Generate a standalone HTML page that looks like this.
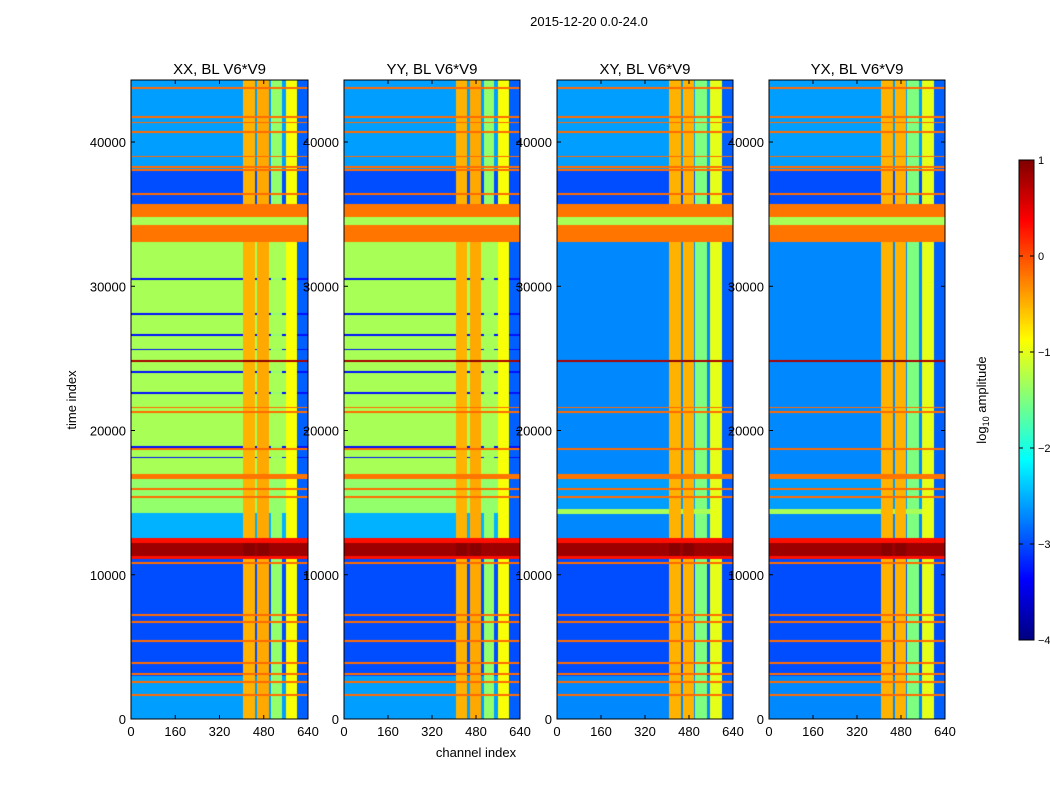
<!DOCTYPE html>
<html><head><meta charset="utf-8"><style>
body{margin:0;background:#fff;width:1050px;height:800px;overflow:hidden;font-family:"Liberation Sans",sans-serif;}
#wrap{position:relative;width:1050px;height:800px;}
canvas{position:absolute;}
svg{position:absolute;left:0;top:0;}
</style></head><body>
<div id="wrap">
<canvas id="c0" width="177" height="639" style="left:131px;top:80px"></canvas>
<canvas id="c1" width="176" height="639" style="left:344px;top:80px"></canvas>
<canvas id="c2" width="176" height="639" style="left:557px;top:80px"></canvas>
<canvas id="c3" width="176" height="639" style="left:769px;top:80px"></canvas>
<canvas id="cb" width="15" height="480" style="left:1019px;top:160px"></canvas>
<svg id="ov" width="1050" height="800" font-family="Liberation Sans, sans-serif"></svg>
</div>
<script>
// ---- data ----
const panelTitles = ["XX, BL V6*V9","YY, BL V6*V9","XY, BL V6*V9","YX, BL V6*V9"];
const xTicks = [0,160,320,480,640];
const yTicks = [0,10000,20000,30000,40000];
const cbTicks = [1,0,-1,-2,-3,-4];
const tMax = 44300, chMax = 640, vMin = -4, vMax = 1;
const rowsParallel = [[0,3000,-2.6],[3000,11080,-3.0],[12520,14250,-2.5],[14250,16630,-1.4],[16980,33100,-1.3],[33100,35690,-0.2],[35690,38000,-3.0],[38000,44300,-2.6]];
const rowsCross = [[0,3000,-2.7],[3000,11080,-3.0],[12520,14190,-2.7],[14190,14530,-1.3],[14530,16630,-2.6],[16980,33100,-2.7],[33100,35690,-0.2],[35690,38000,-3.0],[38000,44300,-2.6]];
const overrideBands = [[11080,11300,0.3],[11300,12200,0.85],[12200,12520,0.3],[16630,16980,-0.2],[24780,24900,0.8],[33100,34250,-0.2],[34250,34800,-1.3],[34800,35690,-0.2]];
const orangeLines = [43750,41730,41360,40720,39000,38280,38080,36410,21590,21300,18700,15970,15400,10790,7220,6710,5380,3890,3110,2590,1640];
const darkLines = [30500,28060,26620,25610,24030,22590,18850,18130];
const colBands = [[406,448,-0.5],[457,500,-0.45],[508,547,-1.4],[559,599,-0.9]];
const colBandsCross = [[406,450,-0.5],[458,500,-0.5],[502,547,-1.5],[556,600,-1.0]];
const redCols = [[406,448,0.95],[457,500,0.95]];
const panelRows = [rowsParallel,rowsParallel,rowsCross,rowsCross];
const panelCols = [colBands,colBands,colBandsCross,colBandsCross];
const panelDark = [darkLines,darkLines,[],[]];

function jet(x){x=Math.max(0,Math.min(1,x));
 const r=Math.min(Math.max(Math.min(4*x-1.5,-4*x+4.5),0),1);
 const g=Math.min(Math.max(Math.min(4*x-0.5,-4*x+3.5),0),1);
 const b=Math.min(Math.max(Math.min(4*x+0.5,-4*x+2.5),0),1);
 return [r*255|0,g*255|0,b*255|0];}
function inBand(arr,v){for(const b of arr){if(v>=b[0]&&v<b[1])return b[2];}return null;}

function drawPanel(i){
 const cv=document.getElementById('c'+i),ctx=cv.getContext('2d'),W=cv.width,H=cv.height;
 const img=ctx.createImageData(W,H);
 const tOf=py=>(H-py-0.5)/H*tMax, chOf=px=>(px+0.5)/W*chMax;
 const lineW=tMax/H*1.8;
 for(let py=0;py<H;py++){
  const t=tOf(py);
  let ov=inBand(overrideBands,t);
  if(ov===null){for(const l of orangeLines){if(Math.abs(t-l)<lineW/2){ov=-0.15;break;}}}
  let base=inBand(panelRows[i],t); if(base===null)base=-2.8;
  for(const l of panelDark[i]){if(Math.abs(t-l)<lineW/2){base=-3.3;}}
  for(let px=0;px<W;px++){
   const ch=chOf(px);let v;
   if(ov!==null){v=ov; if(ov>0.6&&ov<0.9){const rc=inBand(redCols,ch); if(rc!==null)v=rc;}}
   else{const cval=inBand(panelCols[i],ch);v=cval===null?base:Math.max(base,cval);
     if(ch>600&&base<-1)v=Math.min(v,-2.9);}
   const c=jet((v-vMin)/(vMax-vMin));const k=(py*W+px)*4;
   img.data[k]=c[0];img.data[k+1]=c[1];img.data[k+2]=c[2];img.data[k+3]=255;}
 }
 ctx.putImageData(img,0,0);
}
for(let i=0;i<4;i++)drawPanel(i);
(function(){const cv=document.getElementById('cb'),ctx=cv.getContext('2d');
 for(let y=0;y<480;y++){const c=jet(1-(y+0.5)/480);ctx.fillStyle=`rgb(${c})`;ctx.fillRect(0,y,15,1);}})();

const ov=document.getElementById('ov'),NS='http://www.w3.org/2000/svg';
function el(tag,attrs,txt){const e=document.createElementNS(NS,tag);for(const k in attrs)e.setAttribute(k,attrs[k]);if(txt!==undefined)e.textContent=txt;ov.appendChild(e);return e;}
const lefts=[131,344,557,769],widths=[177,176,176,176],top0=80,bot=719;
const yPix=t=>bot-(t/tMax)*(bot-top0);
for(let i=0;i<4;i++){
 const L=lefts[i],W=widths[i],xPix=c=>L+c/chMax*W;
 const fr=el('rect',{x:L,y:top0,width:W,height:bot-top0,fill:'none',stroke:'#000','stroke-width':1});
 
 const tt=el('text',{x:L+W/2,y:74,'text-anchor':'middle','font-size':15},panelTitles[i]);
 
 for(const v of xTicks){const x=xPix(v);
  el('line',{x1:x,y1:bot,x2:x,y2:bot-4,stroke:'#000'});el('line',{x1:x,y1:top0,x2:x,y2:top0+4,stroke:'#000'});
  const tx=el('text',{x:x,y:736,'text-anchor':'middle','font-size':13},String(v));
  }
 for(const v of yTicks){const y=yPix(v);
  el('line',{x1:L,y1:y,x2:L+4,y2:y,stroke:'#000'});el('line',{x1:L+W,y1:y,x2:L+W-4,y2:y,stroke:'#000'});
  const ty=el('text',{x:L-5,y:y+5,'text-anchor':'end','font-size':13},String(v));
  }
}
const t1=el('text',{x:589,y:26,'text-anchor':'middle','font-size':13},'2015-12-20 0.0-24.0');

const t2=el('text',{x:476,y:757,'text-anchor':'middle','font-size':13},'channel index');

const t3=el('text',{x:76,y:400,'text-anchor':'middle','font-size':13,transform:'rotate(-90 76 400)'},'time index');

const t4=el('text',{x:986,y:400,'text-anchor':'middle','font-size':13,transform:'rotate(-90 986 400)'});
t4.innerHTML='log<tspan font-size="9" dy="3">10</tspan><tspan dy="-3"> amplitude</tspan>';

const cbf=el('rect',{x:1019,y:160,width:15,height:480,fill:'none',stroke:'#000'});

for(const v of cbTicks){const y=160+(vMax-v)/(vMax-vMin)*480;
 el('line',{x1:1019,y1:y,x2:1023,y2:y,stroke:'#000'});el('line',{x1:1034,y1:y,x2:1030,y2:y,stroke:'#000'});
 const ct=el('text',{x:1038,y:y+4,'font-size':11},v<0?'\u2212'+(-v):String(v));
 }
</script>
</body></html>
